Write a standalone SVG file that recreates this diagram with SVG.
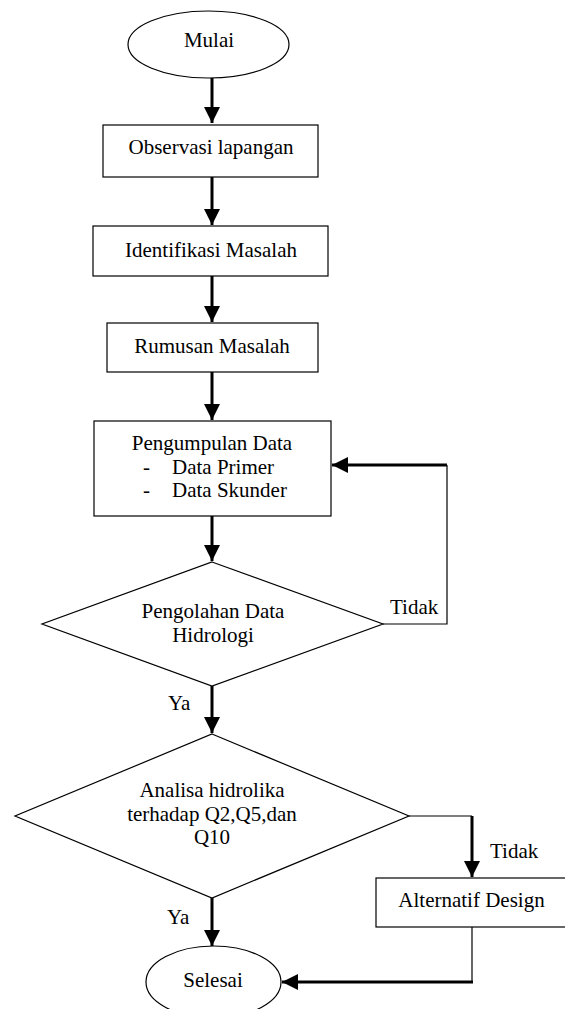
<svg xmlns="http://www.w3.org/2000/svg" width="565" height="1009" viewBox="0 0 565 1009">
<style>
.shape{fill:#fff;stroke:#000;stroke-width:1.2}
text{font-family:"Liberation Serif","Times New Roman",serif;font-size:21px;fill:#000}
.c{text-anchor:middle}
.thick{fill:none;stroke:#000;stroke-width:3}
.thin{fill:none;stroke:#000;stroke-width:1.2}
</style>
<defs>
<marker id="ah" markerUnits="userSpaceOnUse" markerWidth="17" markerHeight="16" refX="16" refY="8" orient="auto">
<path d="M0,0 L16,8 L0,16 z" fill="#000"/>
</marker>
</defs>
<rect width="565" height="1009" fill="#fff"/>
<g id="connectors">
<line class="thick" x1="212" y1="78" x2="212" y2="123" marker-end="url(#ah)"/>
<line class="thick" x1="212" y1="177" x2="212" y2="225" marker-end="url(#ah)"/>
<line class="thick" x1="212" y1="276" x2="212" y2="322" marker-end="url(#ah)"/>
<line class="thick" x1="212" y1="372" x2="212" y2="420" marker-end="url(#ah)"/>
<line class="thick" x1="212" y1="516" x2="212" y2="561" marker-end="url(#ah)"/>
<line class="thick" x1="212" y1="686" x2="212" y2="733" marker-end="url(#ah)"/>
<line class="thick" x1="212" y1="898" x2="212" y2="946" marker-end="url(#ah)"/>
<polyline class="thin" points="383,624 447,624 447,465"/>
<line class="thick" x1="447" y1="465" x2="332" y2="465" marker-end="url(#ah)"/>
<line class="thin" x1="409" y1="816" x2="472" y2="816"/>
<line class="thick" x1="472" y1="816" x2="472" y2="877" marker-end="url(#ah)"/>
<line class="thin" x1="472" y1="927" x2="472" y2="982"/>
<line class="thick" x1="473" y1="982" x2="282" y2="982" marker-end="url(#ah)"/>
<text x="390" y="614">Tidak</text>
<text x="490" y="858">Tidak</text>
<text x="168" y="710">Ya</text>
<text x="167" y="924">Ya</text>
</g>
<g id="mulai">
<ellipse class="shape" cx="208.5" cy="44.5" rx="80.5" ry="33.5"/>
<text class="c" x="209" y="47">Mulai</text>
</g>
<g id="observasi">
<rect class="shape" x="103" y="125" width="215" height="52"/>
<text class="c" x="211" y="154">Observasi lapangan</text>
</g>
<g id="identifikasi">
<rect class="shape" x="93" y="226" width="235" height="50"/>
<text class="c" x="211" y="257">Identifikasi Masalah</text>
</g>
<g id="rumusan">
<rect class="shape" x="107" y="323" width="211" height="49"/>
<text class="c" x="212" y="353">Rumusan Masalah</text>
</g>
<g id="pengumpulan">
<rect class="shape" x="94" y="421" width="237" height="95"/>
<text class="c" x="212" y="450">Pengumpulan Data</text>
<text x="143" y="474">-</text>
<text x="172" y="474">Data Primer</text>
<text x="143" y="497">-</text>
<text x="172" y="497">Data Skunder</text>
</g>
<g id="pengolahan">
<polygon class="shape" points="212,562 383,624 212,686 42,624"/>
<text class="c" x="213" y="618">Pengolahan Data</text>
<text class="c" x="213" y="642">Hidrologi</text>
</g>
<g id="analisa">
<polygon class="shape" points="212,734 409,816 212,898 15,816"/>
<text class="c" x="212" y="797">Analisa hidrolika</text>
<text class="c" x="212" y="821">terhadap Q2,Q5,dan</text>
<text class="c" x="212" y="844">Q10</text>
</g>
<g id="alternatif">
<rect class="shape" x="376" y="878" width="192" height="49"/>
<text class="c" x="471.5" y="907">Alternatif Design</text>
</g>
<g id="selesai">
<ellipse class="shape" cx="213.5" cy="982" rx="67.5" ry="36"/>
<text class="c" x="213" y="987">Selesai</text>
</g>
</svg>
